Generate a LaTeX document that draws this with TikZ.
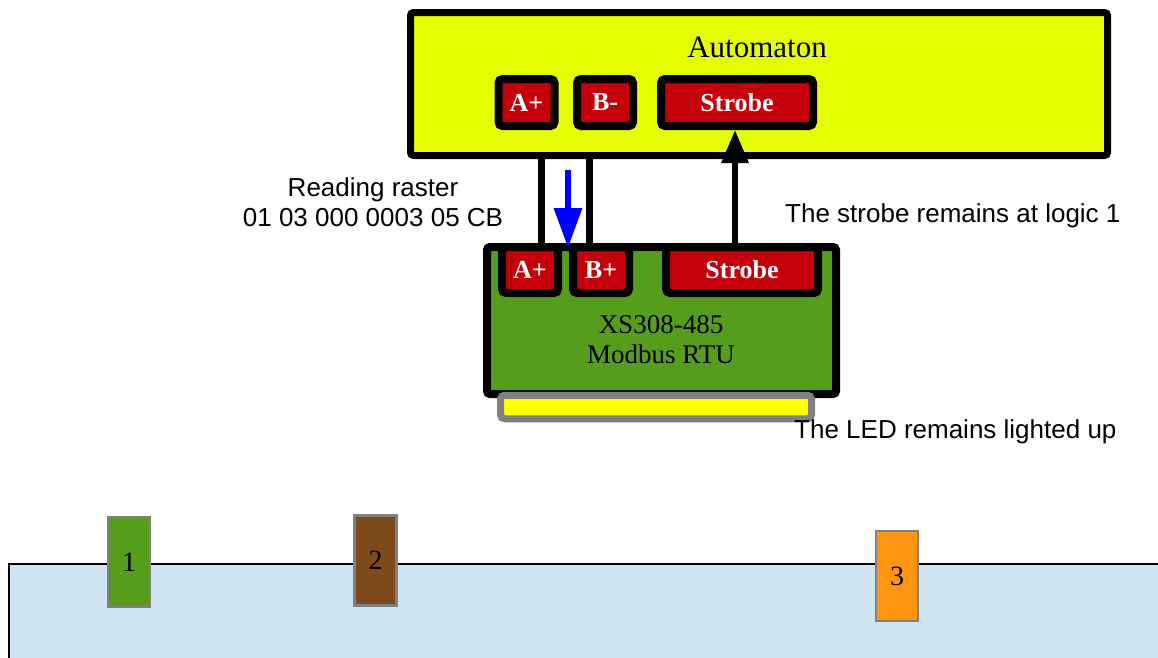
\documentclass[tikz,border=0pt]{standalone}
\usepackage{fontspec}
\setmainfont{Liberation Serif}
\setsansfont{Liberation Sans}
\usetikzlibrary{arrows.meta, positioning}
\definecolor{autolime}{HTML}{E6FF00}
\definecolor{pinred}{HTML}{C5000B}
\definecolor{boardgreen}{HTML}{579D1C}
\definecolor{ledyellow}{HTML}{FFFF00}
\definecolor{ledgray}{HTML}{808080}
\definecolor{poolblue}{HTML}{CFE5F3}
\definecolor{tagbrown}{HTML}{7E4A1C}
\definecolor{tagorange}{HTML}{FF950E}

\begin{document}
\begin{tikzpicture}[x=1pt, y=-1pt,
  unit/.style={
    rectangle, rounded corners=3pt, draw=black,
    line width=7pt, inner sep=0pt},
  pin/.style={
    rectangle, rounded corners=4pt, draw=black, fill=pinred,
    line width=8pt, inner sep=0pt, minimum width=56pt, minimum height=47pt,
    text=white, font=\fontsize{26}{30}\selectfont\bfseries},
  title/.style={inner sep=0pt, font=\fontsize{31}{37}\selectfont},
  note/.style={inner sep=0pt, align=center, font=\fontsize{26}{29.5}\selectfont\sffamily},
  tag/.style={
    rectangle, draw=ledgray, line width=2.5pt, inner sep=0pt,
    minimum width=42pt, minimum height=90pt, font=\fontsize{28}{32}\selectfont},
  wire/.style={line width=7pt, black},
  sig/.style={-{Triangle[length=33pt, width=26pt]}, line width=6pt, black},
  query/.style={-{Triangle[length=40pt, width=27pt]}, line width=6.5pt, blue},
]
  \useasboundingbox (0,0) rectangle (1158,657);

  % Tank
  \fill[poolblue] (8,564) rectangle (1162,662);
  \draw[line width=2.5pt] (9,662) |- (1162,564);

  \node[tag, fill=boardgreen] (tag1) at (129,562) {1};
  \node[tag, fill=tagbrown] (tag2) at (375.5,560.5) {2};
  \node[tag, fill=tagorange] (tag3) at (897,576) {3};

  % Automaton
  \node[unit, fill=autolime, minimum width=697pt, minimum height=143pt] (auto) at (759,84) {};
  \node[title] (autoname) at (757,47.5) {Automaton};
  \node[pin] (outA) at (526.5,102.5) {A+};
  \node[pin] (outB) at (605,102.5) {B-};
  \node[pin, minimum width=152pt] (outS) at (737,102.5) {Strobe};

  % Module
  \node[unit, fill=boardgreen, line width=8pt, minimum width=349pt, minimum height=147pt] (board) at (661.5,320.5) {};
  \node[title, align=center, font=\fontsize{27}{30}\selectfont] (boardname) at (661,340) {XS308-485\\Modbus RTU};
  \node[pin, minimum height=46pt] (inA) at (530,270) {A+};
  \node[pin, minimum height=46pt] (inB) at (601,270) {B+};
  \node[pin, minimum height=46pt, minimum width=152pt] (inS) at (742,270) {Strobe};
  \node[rectangle, rounded corners=4pt, draw=ledgray, fill=ledyellow, line width=7pt,
    inner sep=0pt, minimum width=311pt, minimum height=23.5pt] (led) at (656,407) {};

  % Bus wires
  \draw[wire] ([xshift=11pt]inA.north) -- ([xshift=11pt]inA.north |- auto.south);
  \draw[wire] ([xshift=-12pt]inB.north) -- ([xshift=-12pt]inB.north |- auto.south);

  % Request and strobe
  \coordinate (rq) at (568,170);
  \coordinate (rqend) at (568,248);
  \draw[query] (rq) -- (rqend);
  \draw[sig] ([xshift=-7pt]inS.north) -- ([xshift=-7pt]inS.north |- outS.south);

  % Notes
  \node[note] (raster) at (373,202) {Reading raster\\01 03 000 0003 05 CB};
  \node[note, anchor=base west] (strobenote) at (785,222) {The strobe remains at logic 1};
  \node[note, anchor=base west] (lednote) at (794,438) {The LED remains lighted up};
\end{tikzpicture}
\end{document}
